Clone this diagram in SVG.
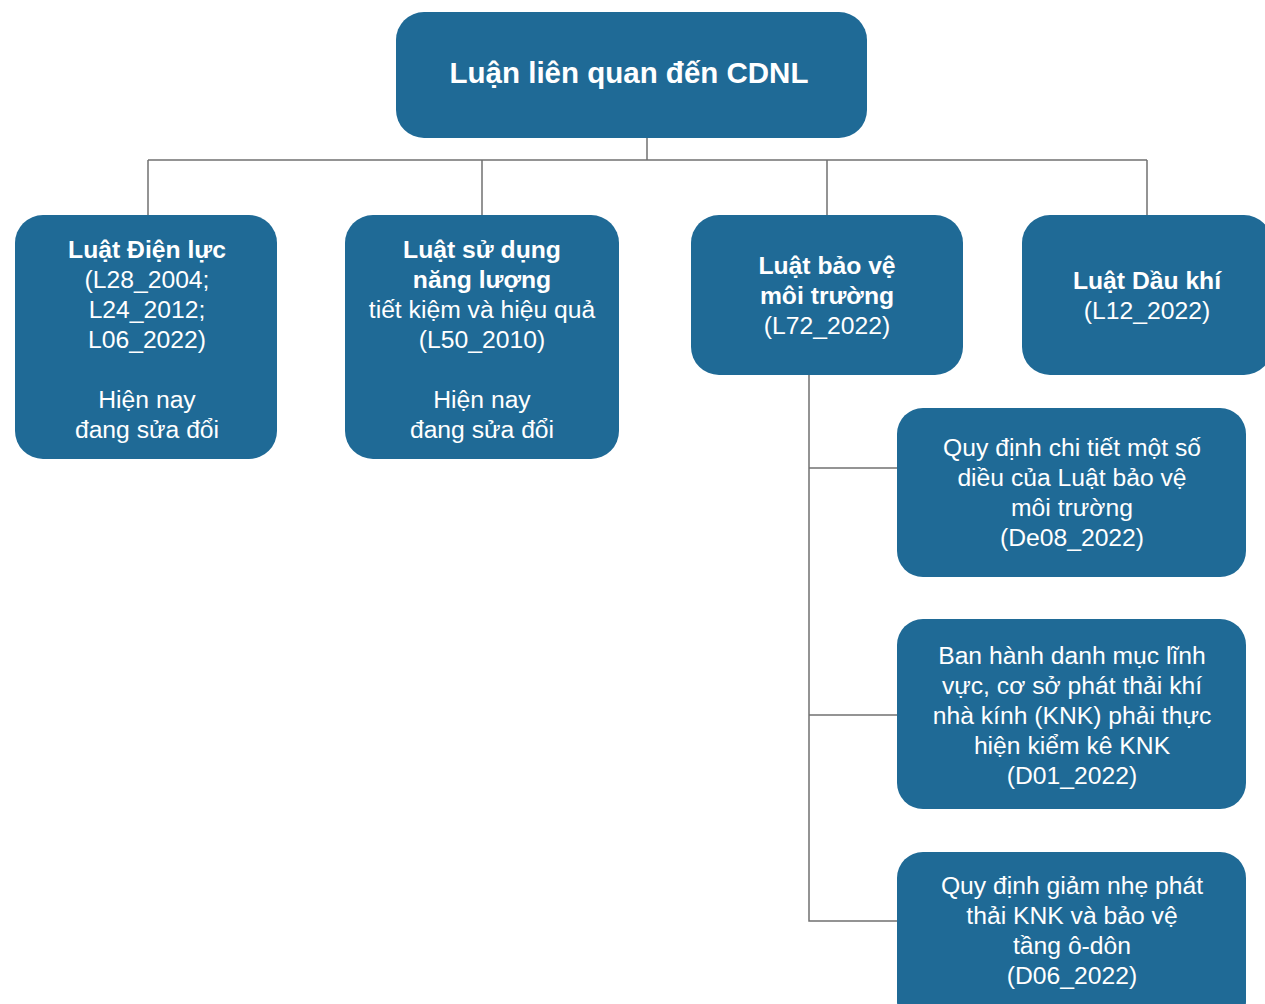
<svg xmlns="http://www.w3.org/2000/svg" width="1265" height="1004" viewBox="0 0 1265 1004">
  <style>
    .box { fill: #1f6a96; }
    .t { fill: #ffffff; font-family: "Liberation Sans", Arial, sans-serif; font-size: 24.7px; text-anchor: middle; }
    .b { font-weight: bold; }
    .title { font-size: 29.5px; font-weight: bold; }
    .link { fill: none; stroke: #707070; stroke-width: 1.5; }
  </style>
  <rect width="1265" height="1004" fill="#ffffff"/>

  <!-- tree connectors -->
  <g id="connectors">
    <path class="link" d="M647,138 V160"/>
    <path class="link" d="M148,160 H1147"/>
    <path class="link" d="M148,160 V215"/>
    <path class="link" d="M482,160 V215"/>
    <path class="link" d="M827,160 V215"/>
    <path class="link" d="M1147,160 V215"/>
    <path class="link" d="M809,375 V921 H897"/>
    <path class="link" d="M809,468 H897"/>
    <path class="link" d="M809,715 H897"/>
  </g>

  <g id="root">
    <rect class="box" x="396" y="12" width="471" height="126" rx="28"/>
    <text class="t title" x="629" y="83">Luận liên quan đến CDNL</text>
  </g>

  <g id="luat-dien-luc">
    <rect class="box" x="15" y="215" width="262" height="244" rx="28"/>
    <text class="t b" x="147" y="258">Luật Điện lực</text>
    <text class="t" x="147" y="288">(L28_2004;</text>
    <text class="t" x="147" y="318">L24_2012;</text>
    <text class="t" x="147" y="348">L06_2022)</text>
    <text class="t" x="147" y="408">Hiện nay</text>
    <text class="t" x="147" y="438">đang sửa đổi</text>
  </g>

  <g id="luat-su-dung-nang-luong">
    <rect class="box" x="345" y="215" width="274" height="244" rx="28"/>
    <text class="t b" x="482" y="258">Luật sử dụng</text>
    <text class="t b" x="482" y="288">năng lượng</text>
    <text class="t" x="482" y="318">tiết kiệm và hiệu quả</text>
    <text class="t" x="482" y="348">(L50_2010)</text>
    <text class="t" x="482" y="408">Hiện nay</text>
    <text class="t" x="482" y="438">đang sửa đổi</text>
  </g>

  <g id="luat-bao-ve-moi-truong">
    <rect class="box" x="691" y="215" width="272" height="160" rx="28"/>
    <text class="t b" x="827" y="274">Luật bảo vệ</text>
    <text class="t b" x="827" y="304">môi trường</text>
    <text class="t" x="827" y="334">(L72_2022)</text>
  </g>

  <g id="luat-dau-khi">
    <rect class="box" x="1022" y="215" width="250" height="160" rx="28"/>
    <text class="t b" x="1147" y="289">Luật Dầu khí</text>
    <text class="t" x="1147" y="319">(L12_2022)</text>
  </g>

  <g id="de08-2022">
    <rect class="box" x="897" y="408" width="349" height="169" rx="26"/>
    <text class="t" x="1072" y="456">Quy định chi tiết một số</text>
    <text class="t" x="1072" y="486">diều của Luật bảo vệ</text>
    <text class="t" x="1072" y="516">môi trường</text>
    <text class="t" x="1072" y="546">(De08_2022)</text>
  </g>

  <g id="d01-2022">
    <rect class="box" x="897" y="619" width="349" height="190" rx="26"/>
    <text class="t" x="1072" y="664">Ban hành danh mục lĩnh</text>
    <text class="t" x="1072" y="694">vực, cơ sở phát thải khí</text>
    <text class="t" x="1072" y="724">nhà kính (KNK) phải thực</text>
    <text class="t" x="1072" y="754">hiện kiểm kê KNK</text>
    <text class="t" x="1072" y="784">(D01_2022)</text>
  </g>

  <g id="d06-2022">
    <rect class="box" x="897" y="852" width="349" height="175" rx="26"/>
    <text class="t" x="1072" y="894">Quy định giảm nhẹ phát</text>
    <text class="t" x="1072" y="924">thải KNK và bảo vệ</text>
    <text class="t" x="1072" y="954">tầng ô-dôn</text>
    <text class="t" x="1072" y="984">(D06_2022)</text>
  </g>
</svg>
